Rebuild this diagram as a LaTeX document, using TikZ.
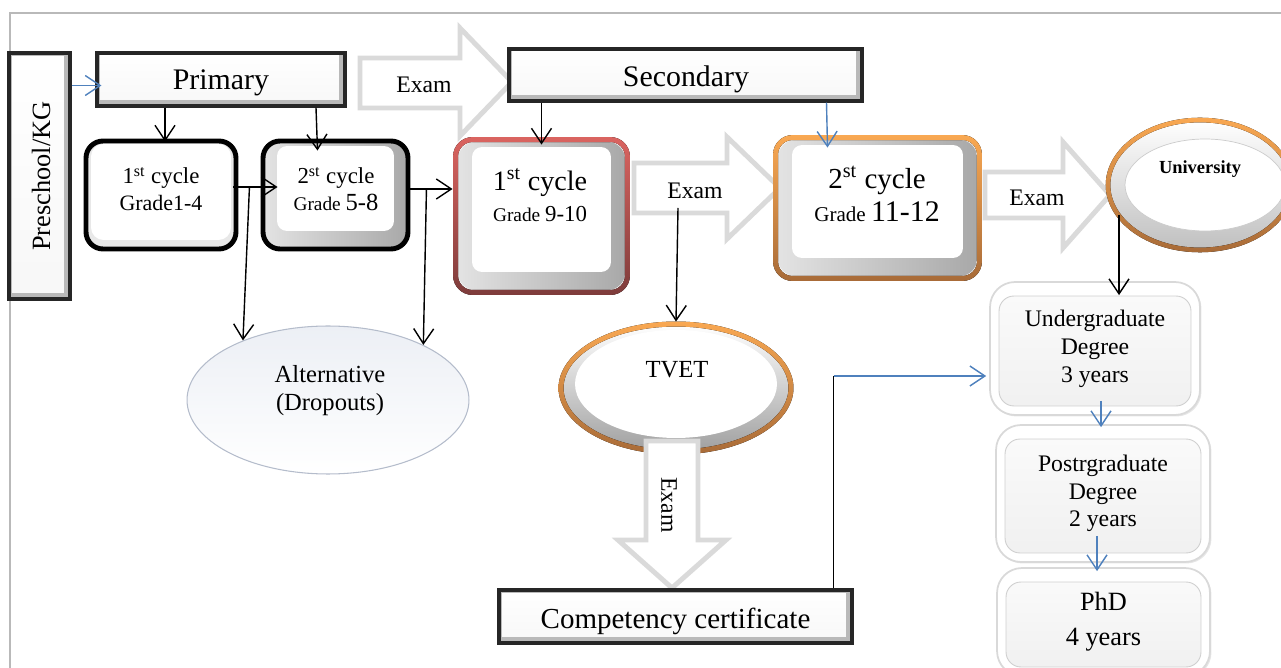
\documentclass[tikz,border=0pt]{standalone}
\usepackage{fontspec}
\setmainfont{Liberation Serif}
\usetikzlibrary{arrows.meta,calc,shapes.geometric,shadows}
\definecolor{rimredtop}{HTML}{DA6460}
\definecolor{rimredbot}{HTML}{7E3C3B}
\definecolor{rimorangetop}{HTML}{F9A852}
\definecolor{rimorangebot}{HTML}{A86B38}
\definecolor{linkblue}{HTML}{4F81BD}
\definecolor{examgray}{HTML}{DADADA}
\definecolor{altedge}{HTML}{B4BCCB}
\definecolor{altfill}{HTML}{ECEFF5}
\newcommand\fsz[2]{\fontsize{#1}{#2}\selectfont}
% gradient rim around a rounded box node (path shrunk/grown by 2.5 units)
\newcommand\boxrim[3]{%
  \fill[even odd rule, top color=#2, bottom color=#3]
    [rounded corners=0.39cm] ($(#1.south west)+(-2.5,2.5)$) rectangle ($(#1.north east)+(2.5,-2.5)$)
    [rounded corners=0.29cm] ($(#1.south west)+(2.5,-2.5)$) rectangle ($(#1.north east)+(-2.5,2.5)$);}

\tikzset{
  arr/.style={draw=black, line width=0.8pt, -{Straight Barb[length=0.3cm,width=0.4cm]}},
  bluearr/.style={arr, draw=linkblue},
  plainline/.style={draw=black, line width=0.8pt},
  examarrow/.style={draw=examgray, line width=2.8pt, fill=white, line join=miter},
  rectbox/.style={rectangle, draw=black!85, line width=1.8pt, fill=gray!55, inner sep=0pt,
    path picture={\fill[top color=white, bottom color=gray!6]
      ($(path picture bounding box.south west)+(3,-6)$) rectangle
      ($(path picture bounding box.north east)+(-6,3)$);}},
  deepbox/.style={rectangle, rounded corners=0.34cm, line width=2.8pt,
    left color=gray!22, right color=gray!68, inner sep=0pt,
    path picture={\fill[white, rounded corners=0.2cm]
      ($(path picture bounding box.south west)+(14,-18)$) rectangle
      ($(path picture bounding box.north east)+(-14,5)$);}},
  flatbox/.style={rectangle, rounded corners=0.34cm, draw=black, line width=2.8pt,
    fill=gray!18, inner sep=0pt,
    path picture={\fill[white, rounded corners=0.25cm]
      ($(path picture bounding box.south west)+(5,-9)$) rectangle
      ($(path picture bounding box.north east)+(-5,3)$);}},
  degbox/.style={rectangle, rounded corners=0.5cm, draw=gray!30, line width=1pt,
    fill=white, inner sep=0pt, align=center,
    drop shadow={shadow xshift=0.03cm, shadow yshift=-0.03cm, opacity=0.2},
    path picture={\filldraw[draw=gray!38, line width=0.5pt, top color=gray!3,
      bottom color=gray!12, rounded corners=0.3cm]
      ($(path picture bounding box.south west)+(9,-9)$) rectangle
      ($(path picture bounding box.north east)+(-9,14)$);}},
  altell/.style={ellipse, draw=altedge, line width=0.6pt, top color=altfill,
    bottom color=white, inner sep=0pt},
  tvetell/.style={ellipse, top color=white, bottom color=gray!75, inner sep=0pt, outer sep=1.4pt,
    path picture={\fill[white] ($(path picture bounding box.center)+(0,-4)$)
      ellipse [x radius=2.02cm, y radius=1.08cm];}},
  uniell/.style={ellipse, top color=white, bottom color=gray!50, inner sep=0pt, outer sep=1.3pt,
    path picture={\filldraw[fill=white, draw=gray!40, line width=0.4pt]
      ($(path picture bounding box.center)+(5,0)$)
      ellipse [x radius=1.6cm, y radius=0.92cm];}},
  txt/.style={inner sep=0pt, align=center},
}

\begin{document}
\begin{tikzpicture}[x=0.02cm, y=-0.02cm]
\useasboundingbox (0,0) rectangle (1281,668);

% page frame
\draw[gray!55, line width=0.8pt] (10,668) -- (10,13) -- (1281,13);

% hollow exam arrows
\draw[examarrow] (360,58) -- (460,58) -- (460,28) -- (512,82) -- (460,136) -- (460,108) -- (360,108) -- cycle;
\draw[examarrow] (634,163) -- (727,163) -- (727,137) -- (780,188) -- (727,239) -- (727,213) -- (634,213) -- cycle;
\draw[examarrow] (985,172) -- (1063,172) -- (1063,142) -- (1110,195) -- (1063,248) -- (1063,218) -- (985,218) -- cycle;
\node[txt, font=\fsz{13.5}{16}] (exam1) at (424,85) {Exam};
\node[txt, font=\fsz{13.5}{16}] (exam2) at (695,191) {Exam};
\node[txt, font=\fsz{13.5}{16}] (exam3) at (1037,198) {Exam};

% level boxes
\node[rectbox, minimum width=1.22cm, minimum height=4.92cm] (pre) at (39.5,176) {};
\node[txt, rotate=90, font=\fsz{15}{18}] (pretxt) at (41,176) {Preschool/KG};
\node[rectbox, minimum width=4.96cm, minimum height=1.06cm] (primary) at (221,79.5) {};
\node[txt, font=\fsz{17}{20}] (primarytxt) at (221,83) {Primary};
\node[rectbox, minimum width=7.06cm, minimum height=1.04cm] (secondary) at (685.5,75) {};
\node[txt, font=\fsz{17}{20}] (secondarytxt) at (686,79) {Secondary};

% cycle boxes
\node[flatbox, minimum width=3.0cm, minimum height=2.16cm] (cyc1) at (161,195) {};
\node[txt, font=\fsz{13}{15.3}] (cyc1txt) at (161,189) {1\textsuperscript{st} cycle\\ \fsz{12.5}{15.3}Grade1-4};
\node[deepbox, draw=black, minimum width=2.9cm, minimum height=2.16cm] (cyc2) at (335.5,195) {};
\node[txt, font=\fsz{13}{15.3}] (cyc2txt) at (336,189) {2\textsuperscript{st} cycle\\ \fsz{11}{15.3}Grade \fsz{14}{15.3}5-8};
\node[deepbox, minimum width=3.34cm, minimum height=2.96cm] (cyc3) at (541.5,216) {};
\boxrim{cyc3}{rimredtop}{rimredbot}
\node[txt, font=\fsz{16}{18}] (cyc3txt) at (540,195) {1\textsuperscript{st} cycle\\ \fsz{11}{18}Grade \fsz{13}{18}9-10};
\node[deepbox, minimum width=3.98cm, minimum height=2.72cm] (cyc4) at (877.5,208) {};
\boxrim{cyc4}{rimorangetop}{rimorangebot}
\node[txt, font=\fsz{16.5}{18.7}] (cyc4txt) at (877,193.5) {2\textsuperscript{st} cycle\\ \fsz{12}{18.7}Grade \fsz{17}{18.7}11-12};

% ellipses
\node[altell, minimum width=5.64cm, minimum height=2.96cm] (alt) at (328,400) {};
\node[txt, font=\fsz{14}{16}] (alttxt) at (330,391) {Alternative\\(Dropouts)};
\node[tvetell, minimum width=4.6cm, minimum height=2.56cm] (tvet) at (676,388) {};
\fill[even odd rule, top color=rimorangetop, bottom color=rimorangebot]
  (tvet.center) ellipse [x radius=2.35cm, y radius=1.33cm]
  (tvet.center) ellipse [x radius=2.25cm, y radius=1.23cm];
\node[txt, font=\fsz{14}{16}] (tvettxt) at (677,370) {TVET};
\node[uniell, minimum width=3.68cm, minimum height=2.6cm] (uni) at (1200,185) {};
\fill[even odd rule, top color=rimorangetop, bottom color=rimorangebot]
  (uni.center) ellipse [x radius=1.886cm, y radius=1.346cm]
  (uni.center) ellipse [x radius=1.794cm, y radius=1.254cm];
\node[txt, font=\fsz{10.5}{12}\bfseries] (unitxt) at (1200,169) {University};

% exam arrow below TVET
\draw[examarrow] (646,441) -- (698,441) -- (698,540) -- (726,540) -- (672,588) -- (618,540) -- (646,540) -- cycle;
\node[txt, rotate=-90, font=\fsz{13.5}{16}] (exam4) at (669,505) {Exam};

\node[rectbox, minimum width=7.06cm, minimum height=1.06cm] (comp) at (675.5,616.5) {};
\node[txt, font=\fsz{16.5}{20}] (comptxt) at (675.5,621) {Competency certificate};

% university degrees
\node[degbox, minimum width=4.2cm, minimum height=2.66cm, font=\fsz{13.5}{15.9}] (ug) at (1095,348.5) {Undergraduate\\Degree\\3 years};
\node[degbox, minimum width=4.28cm, minimum height=2.74cm, font=\fsz{13.5}{15.6}] (pg) at (1103,493.5) {Postrgraduate\\Degree\\2 years};
\node[degbox, minimum width=4.26cm, minimum height=2.16cm, font=\fsz{15}{19.8}] (phd) at (1103.5,622) {PhD\\4 years};

% connectors
\draw[bluearr] ($(pre.east |- primary.west)+(0,6)$) -- ($(primary.west)+(6,6)$);
\draw[arr] ($(primary.south)+(-56,0)$) -- ($(cyc1.north)+(4,3)$);
\draw[arr] ($(primary.south)+(95,0)$) -- ($(cyc2.north)+(-18,12)$);

\coordinate (b1) at ($(cyc1.east)+(11,-8)$);
\draw[arr] ($(cyc1.east)+(-5,-8)$) -- ($(cyc2.west)+(17,-8)$);
\draw[arr] (b1) -- (alt.145);
\coordinate (b2) at ($(cyc2.east)+(16,-6)$);
\draw[arr] ($(cyc2.east)+(0,-6)$) -- ($(cyc3.west |- b2)+(-3,0)$);
\draw[arr] (b2) -- (alt.30);

\draw[arr] (secondary.south -| cyc3.north) -- ($(cyc3.north)+(0,5)$);
\draw[bluearr] ($(secondary.south)+(141,0)$) -- ($(cyc4.north)+(-50,10)$);

\coordinate (t1) at (678,208);
\draw[arr] (t1) -- (tvet.north);

\coordinate (u1) at (1119,215);
\draw[arr] (u1) -- ($(u1 |- ug.north)+(0,14)$);
\draw[bluearr] ($(ug.south)+(6,-15)$) -- ($(pg.north)+(-2,3)$);
\draw[bluearr] ($(pg.south)+(-6,-27)$) -- ($(phd.north)+(-6.5,4)$);

\coordinate (c1) at ($(comp.north east)+(-20,0)$);
\coordinate (c3) at ($(ug.west)+(-3,27.5)$);
\draw[plainline] (c1) -- (c1 |- c3);
\draw[bluearr] (c1 |- c3) -- (c3);
\end{tikzpicture}
\end{document}
